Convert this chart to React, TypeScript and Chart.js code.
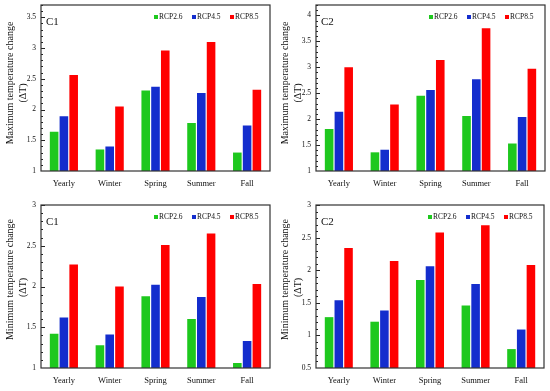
import React, { useEffect, useRef } from "react";
import { Chart, registerables } from "chart.js";
Chart.register(...registerables);

const categories = ["Yearly", "Winter", "Spring", "Summer", "Fall"];
const seriesLabels = ["RCP2.6", "RCP4.5", "RCP8.5"];
const seriesColors = ["rgb(30,200,30)", "rgb(20,45,205)", "rgb(255,0,0)"];

// C1 maximum temperature change
const maxC1_rcp26 = [1.64, 1.35, 2.31, 1.78, 1.3];
const maxC1_rcp45 = [1.89, 1.4, 2.37, 2.27, 1.74];
const maxC1_rcp85 = [2.56, 2.05, 2.96, 3.1, 2.32];
// C2 maximum temperature change
const maxC2_rcp26 = [1.81, 1.36, 2.45, 2.06, 1.53];
const maxC2_rcp45 = [2.14, 1.41, 2.56, 2.77, 2.04];
const maxC2_rcp85 = [3.0, 2.28, 3.14, 3.75, 2.97];
// C1 minimum temperature change
const minC1_rcp26 = [1.42, 1.28, 1.88, 1.6, 1.06];
const minC1_rcp45 = [1.62, 1.41, 2.02, 1.87, 1.33];
const minC1_rcp85 = [2.27, 2.0, 2.51, 2.65, 2.03];
// C2 minimum temperature change
const minC2_rcp26 = [1.28, 1.21, 1.85, 1.46, 0.79];
const minC2_rcp45 = [1.54, 1.38, 2.06, 1.79, 1.09];
const minC2_rcp85 = [2.34, 2.14, 2.58, 2.69, 2.08];

const titleMax = ["Maximum temperature change", "(ΔT)"];
const titleMin = ["Minimum temperature change", "(ΔT)"];

const FONT = "'Liberation Serif', 'Times New Roman', serif";

type Panel = {
  tag: string;
  title: string[];
  yMin: number;
  yMax: number;
  series: number[][];
  left: number;
  top: number;
  padTop: number;
  padRight: number;
  xHeight: number;
  titleShift: number[];
};

const panels: Panel[] = [
  { tag: "C1", title: titleMax, yMin: 1, yMax: 3.7, series: [maxC1_rcp26, maxC1_rcp45, maxC1_rcp85], left: 0, top: 0, padTop: 5, padRight: 5, xHeight: 25, titleShift: [-5, 5] },
  { tag: "C2", title: titleMax, yMin: 1, yMax: 4.2, series: [maxC2_rcp26, maxC2_rcp45, maxC2_rcp85], left: 275, top: 0, padTop: 5, padRight: 5, xHeight: 25, titleShift: [-5, 5] },
  { tag: "C1", title: titleMin, yMin: 1, yMax: 3, series: [minC1_rcp26, minC1_rcp45, minC1_rcp85], left: 0, top: 195, padTop: 10, padRight: 5, xHeight: 23, titleShift: [-7, 1] },
  { tag: "C2", title: titleMin, yMin: 0.5, yMax: 3, series: [minC2_rcp26, minC2_rcp45, minC2_rcp85], left: 275, top: 195, padTop: 10, padRight: 6, xHeight: 23, titleShift: [-7, 1] },
];

const decorPlugin = {
  id: "decor",
  afterDraw(chart: any, _args: any, opts: any) {
    const { ctx, chartArea } = chart;
    const { left, right, top, bottom } = chartArea;
    const y = chart.scales.y;
    ctx.save();
    // minor / major inward ticks on left axis
    ctx.strokeStyle = "#222";
    ctx.lineWidth = 1;
    const step = 0.1;
    const n = Math.round((y.max - y.min) / step);
    for (let i = 1; i <= n; i++) {
      const v = y.min + i * step;
      if (v > y.max + 1e-9) break;
      const py = Math.round(y.getPixelForValue(v)) + 0.5;
      const isMajor = Math.abs(v * 2 - Math.round(v * 2)) < 1e-6;
      const len = isMajor ? 4 : 2;
      ctx.beginPath();
      ctx.moveTo(left, py);
      ctx.lineTo(left + len, py);
      ctx.stroke();
    }
    // frame
    ctx.strokeStyle = "#333";
    ctx.lineWidth = 1.2;
    ctx.strokeRect(left, top, right - left, bottom - top);
    // y-axis title (two rotated lines)
    ctx.fillStyle = "#111";
    ctx.font = `10px ${FONT}`;
    ctx.textAlign = "center";
    ctx.textBaseline = "middle";
    const cy = (top + bottom) / 2;
    const xs = [10, 23];
    (opts.title as string[]).forEach((line, i) => {
      ctx.save();
      ctx.translate(xs[i], cy + opts.titleShift[i]);
      ctx.rotate(-Math.PI / 2);
      ctx.fillText(line, 0, 0);
      ctx.restore();
    });
    // panel tag
    ctx.font = `11px ${FONT}`;
    ctx.textAlign = "left";
    ctx.fillText(opts.tag, left + 5, top + 17);
    // legend
    ctx.font = `7.5px ${FONT}`;
    const ly = top + 12;
    chart.data.datasets.forEach((ds: any, i: number) => {
      const x0 = right - 116 + i * 38;
      ctx.fillStyle = ds.backgroundColor;
      ctx.fillRect(x0, ly - 2, 4, 4);
      ctx.fillStyle = "#111";
      ctx.fillText(ds.label, x0 + 5, ly);
    });
    ctx.restore();
  },
};

function PanelChart({ p }: { p: Panel }) {
  const ref = useRef<HTMLCanvasElement>(null);
  useEffect(() => {
    if (!ref.current) return;
    const chart = new Chart(ref.current, {
      type: "bar",
      data: {
        labels: categories,
        datasets: p.series.map((s, i) => ({
          label: seriesLabels[i],
          data: s,
          backgroundColor: seriesColors[i],
          borderWidth: 0,
          categoryPercentage: 0.64,
          barPercentage: 0.88,
        })),
      },
      options: {
        responsive: false,
        animation: false,
        devicePixelRatio: 1,
        layout: { padding: { top: p.padTop, right: p.padRight, left: 0, bottom: 0 } },
        plugins: {
          legend: { display: false },
          tooltip: { enabled: false },
          decor: { tag: p.tag, title: p.title, titleShift: p.titleShift },
        } as any,
        scales: {
          x: {
            grid: { display: false, drawTicks: false },
            border: { display: false },
            ticks: { color: "#111", font: { family: FONT, size: 8.5 }, padding: 8 },
            afterFit: (s: any) => {
              s.height = p.xHeight;
              s.paddingLeft = 0;
              s.paddingRight = 0;
            },
          },
          y: {
            min: p.yMin,
            max: p.yMax,
            grid: { display: false, drawTicks: false },
            border: { display: false },
            ticks: {
              stepSize: 0.5,
              includeBounds: false,
              color: "#111",
              font: { family: FONT, size: 7.5 },
              padding: 5,
              callback: (v: any) => String(Number(v)),
            },
            afterFit: (s: any) => {
              s.width = 41;
              s.paddingTop = 0;
              s.paddingBottom = 0;
            },
          },
        },
      },
      plugins: [decorPlugin],
    });
    return () => chart.destroy();
  }, []);
  return (
    <canvas
      ref={ref}
      width={275}
      height={196}
      style={{ position: "absolute", left: p.left, top: p.top, width: 275, height: 196 }}
    />
  );
}

export default function App() {
  return (
    <div style={{ position: "fixed", left: 0, top: 0, width: 550, height: 391, background: "#fff" }}>
      {panels.map((p, i) => (
        <PanelChart key={i} p={p} />
      ))}
    </div>
  );
}
